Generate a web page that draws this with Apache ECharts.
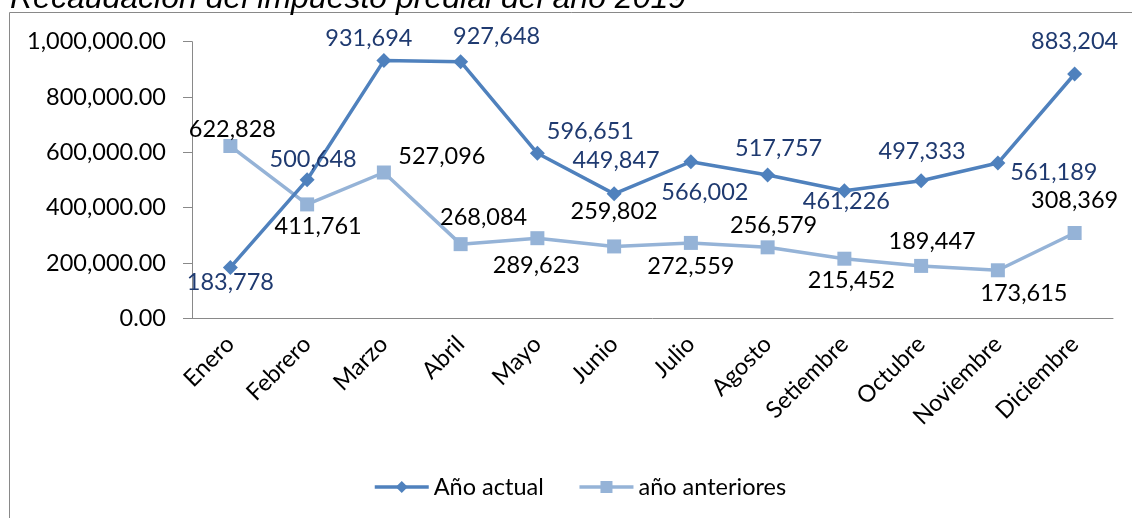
<!DOCTYPE html>
<html>
<head>
<meta charset="utf-8">
<script src="https://cdn.jsdelivr.net/npm/echarts@6/dist/echarts.min.js"></script>
<style>
  html, body { margin: 0; padding: 0; background: #fff; }
  #chart { width: 1132px; height: 518px; }
</style>
</head>
<body>
<div id="chart"></div>
<script>
const meses = ['Enero', 'Febrero', 'Marzo', 'Abril', 'Mayo', 'Junio', 'Julio',
  'Agosto', 'Setiembre', 'Octubre', 'Noviembre', 'Diciembre']
const anioActual = [183778, 500648, 931694, 927648, 596651, 449847, 566002,
  517757, 461226, 497333, 561189, 883204]
const aniosAnteriores = [622828, 411761, 527096, 268084, 289623, 259802, 272559,
  256579, 215452, 189447, 173615, 308369]
const yTicks = [0, 200000, 400000, 600000, 800000, 1000000]

// where each data label sits relative to its marker (hand placed in the original)
const offsActual = [[0, 15], [6, -20], [-15, -22], [36, -25], [53, -22], [2, -33],
  [14, 31], [11, -27], [2, 11], [1, -29], [56, 9], [0, -33]]
const offsAnteriores = [[2, -17], [11, 22], [58, -16], [23, -27], [-1, 27], [0, -35],
  [0, 24], [6, -22], [7, 22], [11, -24], [26, 23], [0, -33]]

const fmtInt = v => v.toLocaleString('en-US')
const fmtDec = v => v.toLocaleString('en-US', { minimumFractionDigits: 2, maximumFractionDigits: 2 })

const FONT = 'Lato'
const FS = 23.5

function withLabels (values, offs) {
  return values.map((v, i) => ({
    value: v,
    label: { offset: offs[i] }
  }))
}

const myChart = echarts.init(document.getElementById('chart'), null, { renderer: 'canvas' })
myChart.setOption({
  animation: false,
  textStyle: { fontFamily: FONT },
  graphic: [
    {
      type: 'rect',
      shape: { x: 9.5, y: 12.5, width: 1300, height: 700 },
      style: { fill: 'none', stroke: '#898989', lineWidth: 1 },
      silent: true
    },
    {
      type: 'text',
      x: 10,
      y: 15,
      style: {
        text: 'Recaudación del impuesto predial del año 2019',
        font: 'italic 32px "Liberation Sans"',
        fill: '#000',
        verticalAlign: 'bottom'
      },
      silent: true
    }
  ],
  grid: {
    left: 192,
    right: 19,
    top: 41.7,
    bottom: 199.7,
    containLabel: false
  },
  legend: {
    left: 368,
    top: 470,
    itemWidth: 54,
    itemHeight: 15,
    itemGap: 34,
    lineStyle: { width: 3.5 },
    textStyle: { fontFamily: FONT, fontSize: FS, color: '#000' },
    data: ['Año actual', 'año anteriores']
  },
  xAxis: {
    type: 'category',
    data: meses,
    boundaryGap: true,
    axisLine: { lineStyle: { color: '#898989', width: 1 } },
    axisTick: { length: 8, lineStyle: { color: '#898989' } },
    axisLabel: {
      rotate: 45,
      margin: 22,
      interval: 0,
      color: '#000',
      fontFamily: FONT,
      fontSize: FS
    },
    splitLine: { show: false }
  },
  yAxis: {
    type: 'value',
    min: yTicks[0],
    max: yTicks[yTicks.length - 1],
    interval: yTicks[1] - yTicks[0],
    axisLine: { show: true, lineStyle: { color: '#898989', width: 1 } },
    axisTick: { show: true, length: 9, lineStyle: { color: '#898989' } },
    axisLabel: {
      margin: 26,
      color: '#000',
      fontFamily: FONT,
      fontSize: FS,
      formatter: v => fmtDec(v)
    },
    splitLine: { show: false }
  },
  series: [
    {
      name: 'año anteriores',
      type: 'line',
      data: withLabels(aniosAnteriores, offsAnteriores),
      symbol: 'rect',
      symbolSize: 14,
      color: '#95B3D7',
      lineStyle: { width: 3.5, color: '#95B3D7' },
      itemStyle: { color: '#95B3D7' },
      label: {
        show: true,
        position: 'inside',
        color: '#000',
        fontFamily: FONT,
        fontSize: FS,
        formatter: p => fmtInt(p.value)
      },
      z: 2
    },
    {
      name: 'Año actual',
      type: 'line',
      data: withLabels(anioActual, offsActual),
      symbol: 'diamond',
      symbolSize: 15,
      color: '#4F81BD',
      lineStyle: { width: 3.5, color: '#4F81BD' },
      itemStyle: { color: '#4F81BD' },
      label: {
        show: true,
        position: 'inside',
        color: '#1F3A70',
        fontFamily: FONT,
        fontSize: FS,
        formatter: p => fmtInt(p.value)
      },
      z: 3
    }
  ]
})
</script>
</body>
</html>
